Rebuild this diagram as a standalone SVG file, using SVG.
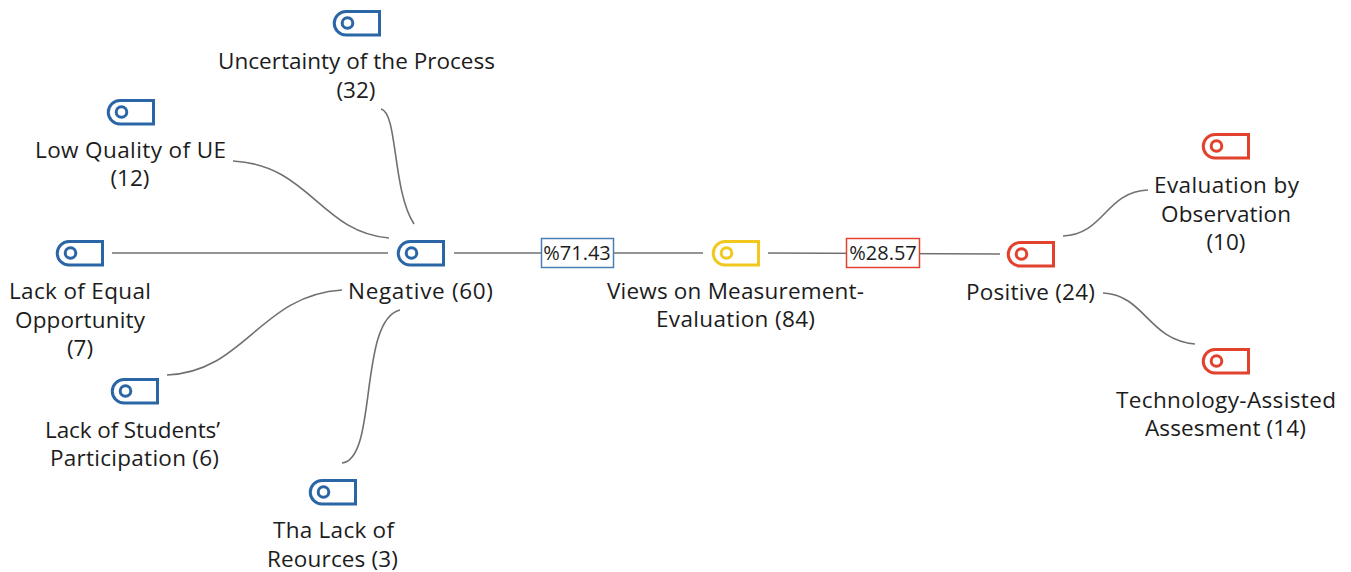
<svg xmlns="http://www.w3.org/2000/svg" width="1351" height="572" viewBox="0 0 1351 572">
<style>
text{font-family:"Open Sans","Noto Sans","Liberation Sans",sans-serif;font-size:22.500px;fill:#1c1c1c;text-anchor:middle}
.c{fill:none;stroke:#707070;stroke-width:1.600}
.b{stroke:#2a66a5}.r{stroke:#e2412d}.y{stroke:#f2c81e}
text.p{font-size:20px}
</style>
<defs>
<g id="tag"><path d="M13 1.500H46.500V25H13A11.750 11.750 0 0 1 13 1.500Z" fill="none" stroke-width="3"/><circle cx="14.500" cy="13" r="5.300" fill="none" stroke-width="3"/></g>
</defs>
<g id="connectors">
<path class="c" d="M381 109C398 113 392 190 414 224"/>
<path class="c" d="M233 161C310 165 320 232 389 238"/>
<path class="c" d="M112 253H388"/>
<path class="c" d="M167 375C245 372 260 295 342 290"/>
<path class="c" d="M342 463C378 460 358 320 400 310"/>
<path class="c" d="M454 253H703"/>
<path class="c" d="M768 253L1000 254"/>
<path class="c" d="M1063 236C1105 234 1105 192 1148 190"/>
<path class="c" d="M1103 293C1145 295 1148 340 1195 344"/>
</g>
<g id="n-uncertainty"><use href="#tag" x="333" y="10" class="b"/><text x="356.500" y="69" textLength="277">Uncertainty of the Process</text><text x="356" y="98">(32)</text></g>
<g id="n-low"><use href="#tag" x="107" y="99" class="b"/><text x="130.500" y="158" textLength="191">Low Quality of UE</text><text x="130" y="186">(12)</text></g>
<g id="n-equal"><use href="#tag" x="56" y="240" class="b"/><text x="80" y="299" textLength="142">Lack of Equal</text><text x="80" y="328" textLength="130">Opportunity</text><text x="80" y="356">(7)</text></g>
<g id="n-negative"><use href="#tag" x="397" y="240" class="b"/><text x="420.500" y="299" textLength="145">Negative (60)</text></g>
<g id="n-students"><use href="#tag" x="111" y="378" class="b"/><text x="132.500" y="438" textLength="175">Lack of Students’</text><text x="134.500" y="466" textLength="169">Participation (6)</text></g>
<g id="n-resources"><use href="#tag" x="309" y="479" class="b"/><text x="333.500" y="538" textLength="121">Tha Lack of</text><text x="332.500" y="567" textLength="131">Reources (3)</text></g>
<g id="n-views"><use href="#tag" x="712" y="240" class="y"/><text x="735.500" y="299" textLength="257">Views on Measurement-</text><text x="735.500" y="327" textLength="159">Evaluation (84)</text></g>
<g id="n-positive"><use href="#tag" x="1007" y="241" class="r"/><text x="1030.500" y="300" textLength="129">Positive (24)</text></g>
<g id="n-observation"><use href="#tag" x="1202" y="133" class="r"/><text x="1226.500" y="193" textLength="145">Evaluation by</text><text x="1226" y="222" textLength="130">Observation</text><text x="1226" y="250">(10)</text></g>
<g id="n-technology"><use href="#tag" x="1202" y="348" class="r"/><text x="1226" y="408" textLength="220">Technology-Assisted</text><text x="1225.500" y="436" textLength="161">Assesment (14)</text></g>
<g id="l-7143"><rect x="541.500" y="238.500" width="72" height="29" fill="#fff" stroke="#4a7fb5" stroke-width="1.500"/><text class="p" x="577" y="260">%71.43</text></g>
<g id="l-2857"><rect x="846.500" y="238.500" width="73" height="29" fill="#fff" stroke="#e2412d" stroke-width="1.500"/><text class="p" x="883" y="260">%28.57</text></g>
</svg>
